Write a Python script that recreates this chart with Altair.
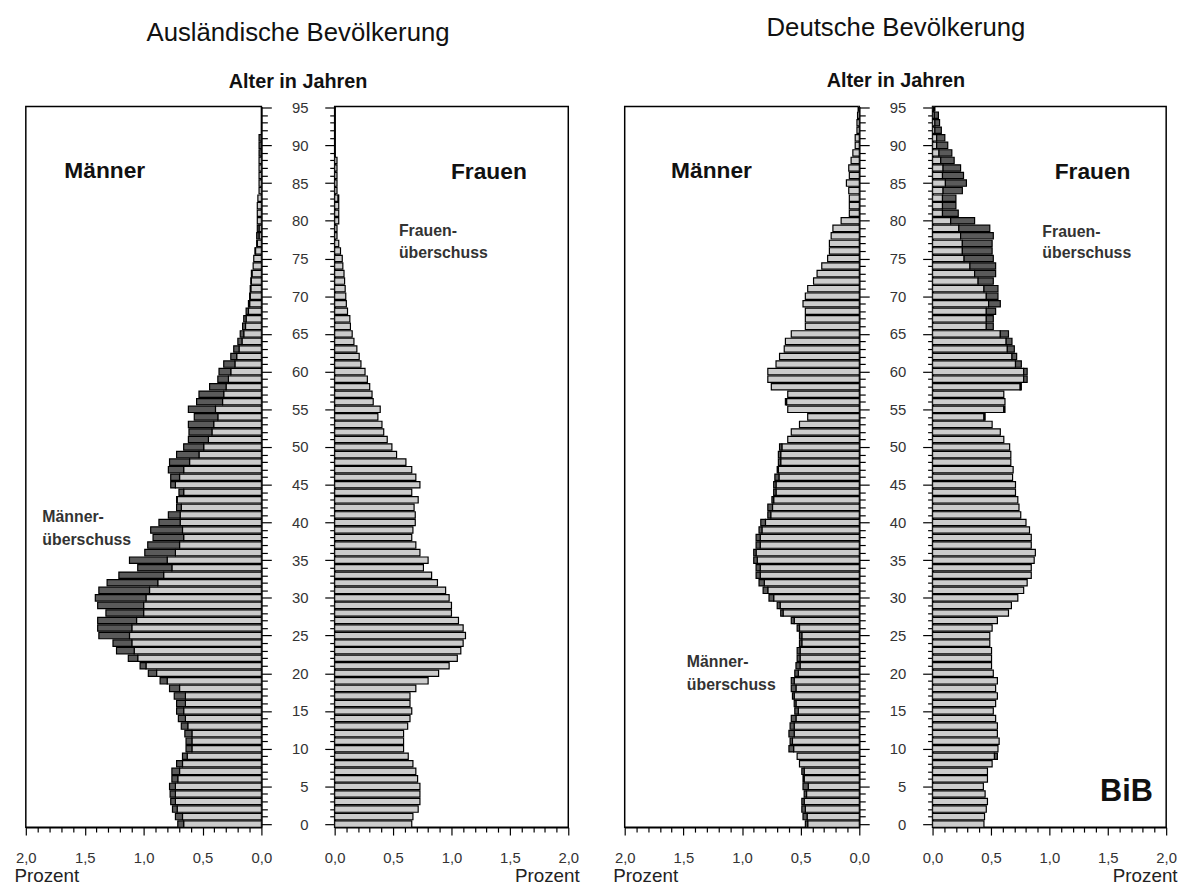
import altair as alt
import pandas as pd

# ---------------- data (percent of population per single year of age) -------------
ages = list(range(96))

ausl_maenner = [
    0.71, 0.73, 0.755, 0.77, 0.775, 0.78, 0.76, 0.76, 0.72, 0.67,
    0.64, 0.64, 0.65, 0.68, 0.705, 0.72, 0.72, 0.74, 0.78, 0.86,
    0.96, 1.03, 1.13, 1.23, 1.26, 1.38, 1.39, 1.39, 1.32, 1.39,
    1.41, 1.38, 1.31, 1.21, 1.05, 1.12, 0.99, 0.965, 0.92, 0.94,
    0.87, 0.79, 0.72, 0.72, 0.70, 0.77, 0.77, 0.79, 0.78, 0.72,
    0.66, 0.62, 0.615, 0.62, 0.57, 0.62, 0.55, 0.53, 0.44, 0.37,
    0.36, 0.32, 0.26, 0.235, 0.20, 0.18, 0.16, 0.15, 0.13, 0.11,
    0.10, 0.095, 0.09, 0.085, 0.07, 0.065, 0.055, 0.04, 0.04, 0.035,
    0.035, 0.035, 0.035, 0.03, 0.02, 0.02, 0.02, 0.02, 0.02, 0.02,
    0.02, 0.02, 0.0, 0.0, 0.0, 0.0,
]
ausl_frauen = [
    0.66, 0.67, 0.715, 0.73, 0.73, 0.73, 0.71, 0.695, 0.67, 0.63,
    0.59, 0.59, 0.59, 0.625, 0.645, 0.66, 0.645, 0.645, 0.695, 0.80,
    0.89, 0.98, 1.05, 1.08, 1.10, 1.12, 1.10, 1.06, 1.00, 1.00,
    0.98, 0.95, 0.88, 0.83, 0.76, 0.80, 0.73, 0.695, 0.66, 0.67,
    0.69, 0.69, 0.68, 0.715, 0.66, 0.73, 0.695, 0.66, 0.61, 0.53,
    0.49, 0.45, 0.42, 0.405, 0.37, 0.39, 0.33, 0.32, 0.30, 0.28,
    0.26, 0.225, 0.21, 0.19, 0.165, 0.15, 0.135, 0.13, 0.11, 0.10,
    0.095, 0.09, 0.085, 0.08, 0.07, 0.065, 0.05, 0.035, 0.02, 0.02,
    0.035, 0.035, 0.035, 0.035, 0.02, 0.02, 0.02, 0.02, 0.02, 0.0,
    0.0, 0.0, 0.0, 0.0, 0.0, 0.0,
]
dt_maenner = [
    0.46, 0.48, 0.49, 0.49, 0.47, 0.48, 0.48, 0.49, 0.51, 0.53,
    0.60, 0.59, 0.60, 0.59, 0.58, 0.55, 0.555, 0.57, 0.58, 0.58,
    0.55, 0.54, 0.53, 0.53, 0.51, 0.51, 0.53, 0.58, 0.67, 0.70,
    0.77, 0.82, 0.855, 0.88, 0.88, 0.90, 0.90, 0.88, 0.88, 0.855,
    0.84, 0.78, 0.78, 0.745, 0.73, 0.73, 0.72, 0.70, 0.69, 0.69,
    0.68, 0.61, 0.58, 0.51, 0.44, 0.61, 0.63, 0.61, 0.75, 0.78,
    0.78, 0.71, 0.68, 0.64, 0.63, 0.58, 0.46, 0.46, 0.46, 0.48,
    0.46, 0.44, 0.39, 0.36, 0.32, 0.27, 0.255, 0.255, 0.24, 0.225,
    0.155, 0.085, 0.085, 0.085, 0.09, 0.11, 0.085, 0.09, 0.07, 0.055,
    0.035, 0.035, 0.02, 0.02, 0.015, 0.01,
]
dt_frauen = [
    0.44, 0.445, 0.46, 0.47, 0.45, 0.435, 0.47, 0.47, 0.51, 0.555,
    0.56, 0.57, 0.555, 0.555, 0.54, 0.52, 0.54, 0.555, 0.54, 0.555,
    0.52, 0.505, 0.505, 0.505, 0.49, 0.49, 0.51, 0.555, 0.65, 0.675,
    0.73, 0.78, 0.81, 0.845, 0.845, 0.87, 0.88, 0.845, 0.845, 0.83,
    0.80, 0.755, 0.74, 0.73, 0.71, 0.71, 0.685, 0.69, 0.67, 0.67,
    0.66, 0.61, 0.58, 0.51, 0.45, 0.62, 0.62, 0.61, 0.76, 0.81,
    0.81, 0.76, 0.72, 0.70, 0.68, 0.65, 0.52, 0.52, 0.54, 0.58,
    0.56, 0.56, 0.52, 0.54, 0.54, 0.52, 0.51, 0.51, 0.52, 0.49,
    0.36, 0.22, 0.20, 0.20, 0.255, 0.29, 0.265, 0.24, 0.185, 0.165,
    0.13, 0.105, 0.075, 0.06, 0.05, 0.02,
]

x_tick_values = [round(i * 0.1, 1) for i in range(21)]
age_tick_values = list(range(96))

# ---------------- styling ----------------
FONT = "Liberation Sans"
LIGHT = "#cccccc"
DARK = "#5a5a5a"
INK = "#111111"
H = 728
Y_DOMAIN = [-0.4, 95.15]
MAJOR_X = "abs(datum.value * 2 - round(datum.value * 2)) < 0.001"


def x_axis(side, width):
    kw = dict(
        values=x_tick_values, tickCount=100, title="Prozent", grid=False,
        tickSize={"condition": {"test": MAJOR_X, "value": 8}, "value": 5},
        labelExpr=MAJOR_X + " ? replace(format(datum.value, '.1f'), '.', ',') : ''",
        labelPadding=16, labelOverlap=False, labelFlush=False, labelBound=False,
        titleY=55, titleBaseline="alphabetic", titleFontSize=19,
        titleFontWeight="normal", titleColor="#222222",
    )
    if side == "M":
        kw.update(titleX=-12, titleAlign="left")
    else:
        kw.update(titleX=width + 11, titleAlign="right")
    return alt.Axis(**kw)


def y_axis(side):
    if side == "M":
        cond = {"condition": {"test": "datum.value % 5 === 0", "value": 10}, "value": 6}
        return alt.Axis(orient="right", values=age_tick_values, tickCount=200,
                        tickSize=cond, labels=False, title=None, grid=False)
    cond = {"condition": {"test": "datum.value % 5 === 0", "value": 10}, "value": 5}
    return alt.Axis(orient="left", values=age_tick_values, tickCount=200, tickSize=cond,
                    labelExpr="datum.value % 5 === 0 ? '' + datum.value : ''",
                    labelPadding=17, title=None, grid=False,
                    labelOverlap=False, labelBound=False, labelFlush=False)


def text_layer(text, x, y, size, weight="normal", align="center", color=INK):
    return alt.Chart(pd.DataFrame({"t": [text]})).mark_text(
        font=FONT, fontSize=size, fontWeight=weight, align=align,
        baseline="alphabetic", color=color,
    ).encode(x=alt.datum(x), y=alt.datum(y), text="t:N")


def panel(own, other, side, width, texts):
    df = pd.DataFrame({"age": ages, "own": own, "other": other})
    base = alt.Chart(df).transform_calculate(
        y0="datum.age - 0.42", y1="datum.age + 0.42",
        light="min(datum.own, datum.other)", zero="0",
    )
    xs = alt.Scale(domain=[0, 2], reverse=(side == "M"), nice=False)
    ys = alt.Scale(domain=Y_DOMAIN, nice=False, zero=False)
    light = base.transform_filter("datum.light > 0").mark_rect(
        fill=LIGHT, stroke="black", strokeWidth=1.2, clip=True
    ).encode(
        x=alt.X("zero:Q", scale=xs, axis=x_axis(side, width)),
        x2="light:Q",
        y=alt.Y("y0:Q", scale=ys, axis=y_axis(side)),
        y2="y1:Q",
    )
    dark = base.transform_filter("datum.own > datum.other").mark_rect(
        fill=DARK, stroke="black", strokeWidth=1.2, clip=True
    ).encode(x="other:Q", x2="own:Q", y="y0:Q", y2="y1:Q")
    return alt.layer(light, dark, *texts).properties(width=width, height=H)


GAP_X = -0.3136  # centre of the gap between the two halves, in Frauen units

m1 = panel(ausl_maenner, ausl_frauen, "M", 238, [
    text_layer("Männer", 1.33, 85.7, 23, "bold"),
    text_layer("Männer-", 1.86, 40.0, 16, "bold", "left", "#333333"),
    text_layer("überschuss", 1.86, 37.0, 16, "bold", "left", "#333333"),
])
f1 = panel(ausl_frauen, ausl_maenner, "F", 236, [
    text_layer("Frauen", 1.32, 85.6, 23, "bold"),
    text_layer("Frauen-", 0.55, 78.0, 16, "bold", "left", "#333333"),
    text_layer("überschuss", 0.55, 75.1, 16, "bold", "left", "#333333"),
    text_layer("Ausländische Bevölkerung", GAP_X, 103.9, 26),
    text_layer("Alter in Jahren", GAP_X, 97.6, 20, "bold"),
])
m2 = panel(dt_maenner, dt_frauen, "M", 237, [
    text_layer("Männer", 1.26, 85.7, 23, "bold"),
    text_layer("Männer-", 1.47, 20.8, 16, "bold", "left", "#333333"),
    text_layer("überschuss", 1.47, 17.8, 16, "bold", "left", "#333333"),
])
f2 = panel(dt_frauen, dt_maenner, "F", 236, [
    text_layer("Frauen", 1.37, 85.6, 23, "bold"),
    text_layer("Frauen-", 0.94, 77.9, 16, "bold", "left", "#333333"),
    text_layer("überschuss", 0.94, 75.0, 16, "bold", "left", "#333333"),
    text_layer("BiB", 1.66, 3.05, 31, "bold"),
    text_layer("Deutsche Bevölkerung", GAP_X, 104.5, 26),
    text_layer("Alter in Jahren", GAP_X, 97.7, 20, "bold"),
])

left = alt.hconcat(m1, f1, spacing=74, bounds="flush")
right = alt.hconcat(m2, f2, spacing=74, bounds="flush")

chart = alt.hconcat(left, right, spacing=32).properties(
    padding={"left": 5, "top": 2, "right": 5, "bottom": 2}
).configure_view(
    stroke="black", strokeWidth=1.5
).configure_axis(
    domainColor="black", domainWidth=1.5, tickColor="black", tickWidth=1.2,
    labelFont=FONT, labelFontSize=15, labelColor="#333333", titleFont=FONT,
)

chart.save("out.html", embed_options={"renderer": "svg", "actions": False})
